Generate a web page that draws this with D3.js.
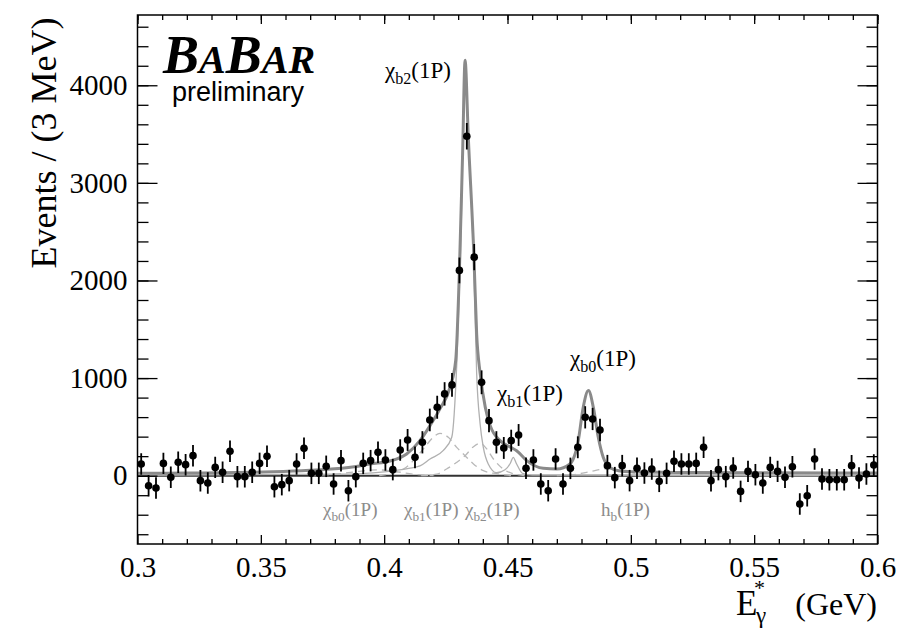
<!DOCTYPE html>
<html>
<head>
<meta charset="utf-8">
<script src="https://cdn.jsdelivr.net/npm/d3@7/dist/d3.min.js"></script>
<style>
  html, body { margin: 0; padding: 0; background: #fff; }
  svg { display: block; }
  .serif { font-family: "Liberation Serif", "Times New Roman", serif; }
  .sans { font-family: "Liberation Sans", Arial, sans-serif; }
</style>
</head>
<body>
<svg id="chart" width="910" height="636"></svg>
<script>
// Photon energy spectrum, 3 MeV bins from 0.300 to 0.600 GeV
const binStart = 0.3;
const binWidth = 0.003;
const counts = [
  120, -103, -126, 126, -17, 137, 113, 205, -51, -75,
  85, 34, 250, -10, -10, 34, 126, 198, -113, -92,
  -51, 120, 280, 24, 24, 96, -85, 154, -154, -10,
  126, 154, 239, 161, 62, 263, 366, 188, 342, 571,
  701, 838, 930, 2103, 3477, 2239, 957, 564, 342, 284,
  359, 417, 75, 161, -85, -154, 171, -85, 75, 291,
  598, 581, 468, 103, -20, 103, -51, 75, 27, 68,
  -58, 24, 147, 120, 120, 126, 291, -51, 62, -10,
  79, -161, 44, 10, -75, 85, 44, -17, 92, -290,
  -205, 171, -34, -41, -41, -41, 103, -24, 17, 110
];
const errors = [
  110, 110, 110, 110, 110, 110, 110, 110, 110, 110,
  110, 110, 110, 110, 110, 110, 110, 110, 110, 110,
  110, 110, 110, 110, 110, 110, 110, 110, 110, 110,
  110, 110, 110, 110, 110, 110, 112, 112, 114, 116,
  118, 120, 122, 132, 136, 134, 122, 118, 114, 112,
  112, 112, 110, 110, 110, 110, 110, 110, 110, 112,
  114, 114, 114, 110, 110, 110, 110, 110, 110, 110,
  110, 110, 110, 110, 110, 110, 110, 110, 110, 110,
  110, 110, 110, 110, 110, 110, 110, 110, 110, 110,
  110, 110, 110, 110, 110, 110, 110, 110, 110, 110
];

// Fit curves sampled as [E (GeV), events]
const fitTotal = [
  [0.300, 25], [0.320, 27], [0.340, 32], [0.355, 40], [0.370, 55], [0.380, 70],
  [0.390, 100], [0.3943, 120], [0.4024, 150], [0.4091, 222], [0.4145, 359],
  [0.4186, 513], [0.4226, 684], [0.4267, 906], [0.4290, 1180], [0.4305, 2100],
  [0.4318, 3300], [0.4328, 4256], [0.4341, 3477], [0.4364, 2239], [0.4375, 1450],
  [0.4389, 1050], [0.4410, 700], [0.4430, 513], [0.4470, 359], [0.4510, 295],
  [0.4537, 256], [0.4578, 154], [0.4645, 75], [0.4700, 68], [0.4753, 120],
  [0.4787, 359], [0.4807, 700], [0.4828, 872], [0.4848, 700], [0.4868, 393],
  [0.4888, 188], [0.4915, 85], [0.4950, 50], [0.5000, 40], [0.5200, 33],
  [0.5500, 30], [0.6000, 28]
];
const fitSignal = [
  [0.300, 4], [0.380, 15], [0.400, 40], [0.4100, 75], [0.4145, 100],
  [0.4186, 171], [0.4239, 256], [0.4274, 393], [0.4295, 1180], [0.4310, 2300],
  [0.4328, 4200], [0.4344, 3300], [0.4364, 2100], [0.4375, 1045], [0.4389, 530],
  [0.4402, 290], [0.4422, 120], [0.4456, 30], [0.4490, 60], [0.4512, 130],
  [0.4523, 188], [0.4537, 120], [0.4560, 25], [0.4600, 6], [0.6000, 0]
];
const peakB1 = [
  [0.398, 0], [0.4078, 68], [0.4118, 154], [0.4159, 274], [0.4199, 393],
  [0.4226, 434], [0.4260, 393], [0.4294, 290], [0.4328, 205], [0.4362, 120],
  [0.4402, 51], [0.4456, 20], [0.452, 0]
];
const peakB2 = [
  [0.415, 0], [0.4213, 15], [0.4253, 68], [0.4294, 137], [0.4328, 205],
  [0.4362, 297], [0.4389, 331], [0.4416, 274], [0.4443, 171], [0.4483, 68],
  [0.4524, 20], [0.458, 0]
];
const peakB0 = [
  [0.370, 0], [0.380, 15], [0.390, 45], [0.397, 60], [0.404, 45], [0.412, 15], [0.420, 0]
];
const peakHb = [
  [0.470, 0], [0.478, 15], [0.484, 45], [0.490, 70], [0.496, 55], [0.502, 25], [0.510, 0]
];

const xMajor = [0.3, 0.35, 0.4, 0.45, 0.5, 0.55, 0.6];
const xMajorLabels = ["0.3", "0.35", "0.4", "0.45", "0.5", "0.55", "0.6"];
const xMinor = d3.range(0, 31).map(i => +(0.3 + i * 0.01).toFixed(2));
const yMajor = [0, 1000, 2000, 3000, 4000];
const yMinor = d3.range(-600, 4720, 200);

const svg = d3.select("#chart");

const x = d3.scaleLinear().domain([0.3, 0.6]).range([137.5, 877.5]);
const y = d3.scaleLinear().domain([-700, 4720]).range([544, 15]);

svg.append("defs").append("clipPath").attr("id", "plotclip")
  .append("rect").attr("x", x(0.3)).attr("y", y(4720))
  .attr("width", x(0.6) - x(0.3)).attr("height", y(-700) - y(4720));

const plot = svg.append("g").attr("clip-path", "url(#plotclip)");

const line = d3.line().x(d => x(d[0])).y(d => y(d[1])).curve(d3.curveMonotoneX);

// Background level
plot.append("line")
  .attr("x1", x(0.3)).attr("x2", x(0.6))
  .attr("y1", y(0)).attr("y2", y(0))
  .attr("stroke", "#333").attr("stroke-width", 2);

// Peaking components (dashed)
[peakB0, peakB1, peakB2, peakHb].forEach(c => {
  plot.append("path").attr("d", line(c))
    .attr("fill", "none").attr("stroke", "#b8b8b8")
    .attr("stroke-width", 1.3).attr("stroke-dasharray", "7,5");
});

// Signal component
plot.append("path").attr("d", line(fitSignal))
  .attr("fill", "none").attr("stroke", "#b0b0b0").attr("stroke-width", 1.3);

// Total fit
plot.append("path").attr("d", line(fitTotal))
  .attr("fill", "none").attr("stroke", "#8a8a8a").attr("stroke-width", 3);

// Data points with error bars
const pts = counts.map((v, i) => ({ e: binStart + binWidth * (i + 0.5), v, err: errors[i] }));
const pg = plot.append("g");
pg.selectAll("line.err").data(pts).join("line").attr("class", "err")
  .attr("x1", d => x(d.e)).attr("x2", d => x(d.e))
  .attr("y1", d => y(d.v - d.err)).attr("y2", d => y(d.v + d.err))
  .attr("stroke", "#000").attr("stroke-width", 1.8);
pg.selectAll("circle").data(pts).join("circle")
  .attr("cx", d => x(d.e)).attr("cy", d => y(d.v)).attr("r", 3.8)
  .attr("fill", "#000");

// Axes (ticks pointing inward on all four sides)
function styleAxis(g) {
  g.attr("font-family", null).attr("font-size", null);
  g.select(".domain").remove();
  g.selectAll(".tick line").attr("stroke", "#000").attr("stroke-width", 1.3);
  g.selectAll(".tick text").attr("fill", "#000").attr("class", "serif")
    .style("font-size", "29px");
}
const bottomMajor = svg.append("g").attr("transform", `translate(0,${y(-700)})`)
  .call(d3.axisBottom(x).tickValues(xMajor).tickSize(-9).tickPadding(12)
    .tickFormat((d, i) => xMajorLabels[i]));
styleAxis(bottomMajor);
const bottomMinor = svg.append("g").attr("transform", `translate(0,${y(-700)})`)
  .call(d3.axisBottom(x).tickValues(xMinor.filter(v => !xMajor.some(m => Math.abs(m - v) < 1e-9))).tickSize(-5).tickFormat(""));
styleAxis(bottomMinor);
const topMajor = svg.append("g").attr("transform", `translate(0,${y(4720)})`)
  .call(d3.axisTop(x).tickValues(xMajor).tickSize(-9).tickFormat(""));
styleAxis(topMajor);
const topMinor = svg.append("g").attr("transform", `translate(0,${y(4720)})`)
  .call(d3.axisTop(x).tickValues(xMinor).tickSize(-5).tickFormat(""));
styleAxis(topMinor);

const leftMajor = svg.append("g").attr("transform", `translate(${x(0.3)},0)`)
  .call(d3.axisLeft(y).tickValues(yMajor).tickSize(-20).tickPadding(10).tickFormat(d3.format("d")));
styleAxis(leftMajor);
const leftMinor = svg.append("g").attr("transform", `translate(${x(0.3)},0)`)
  .call(d3.axisLeft(y).tickValues(yMinor).tickSize(-11).tickFormat(""));
styleAxis(leftMinor);
const rightMajor = svg.append("g").attr("transform", `translate(${x(0.6)},0)`)
  .call(d3.axisRight(y).tickValues(yMajor).tickSize(-20).tickFormat(""));
styleAxis(rightMajor);
const rightMinor = svg.append("g").attr("transform", `translate(${x(0.6)},0)`)
  .call(d3.axisRight(y).tickValues(yMinor).tickSize(-11).tickFormat(""));
styleAxis(rightMinor);

// Frame
svg.append("rect").attr("x", x(0.3)).attr("y", y(4720))
  .attr("width", x(0.6) - x(0.3)).attr("height", y(-700) - y(4720))
  .attr("fill", "none").attr("stroke", "#000").attr("stroke-width", 1.5);

// Axis titles
svg.append("text").attr("class", "serif").attr("transform", "translate(56,143) rotate(-90)")
  .attr("text-anchor", "middle").style("font-size", "36px")
  .attr("fill", "#000").text("Events / (3 MeV)");

svg.append("text").attr("class", "serif").attr("x", 736).attr("y", 615)
  .style("font-size", "35px").attr("fill", "#000").text("E");
svg.append("text").attr("class", "serif").attr("x", 756).attr("y", 623)
  .style("font-size", "23px").attr("fill", "#000").text("γ");
svg.append("text").attr("class", "serif").attr("x", 754).attr("y", 595)
  .style("font-size", "22px").attr("fill", "#000").text("*");
svg.append("text").attr("class", "serif").attr("x", 877).attr("y", 615)
  .attr("text-anchor", "end").style("font-size", "32px").attr("fill", "#000").text("(GeV)");

// Peak labels
function chiLabel(x0, y0, sub, size, color, base) {
  const t = svg.append("text").attr("class", "serif").attr("x", x0).attr("y", y0)
    .style("font-size", size + "px").attr("fill", color);
  t.append("tspan").text(base);
  t.append("tspan").style("font-size", (size * 0.7) + "px").attr("dy", size * 0.28).text(sub);
  t.append("tspan").attr("dy", -size * 0.28).text("(1P)");
}
chiLabel(385, 78, "b2", 23, "#000", "χ");
chiLabel(497, 401, "b1", 23, "#000", "χ");
chiLabel(570, 366, "b0", 23, "#000", "χ");
chiLabel(323, 516, "b0", 19, "#8c8c8c", "χ");
chiLabel(404, 516, "b1", 19, "#8c8c8c", "χ");
chiLabel(465, 516, "b2", 19, "#8c8c8c", "χ");
chiLabel(601, 516, "b", 19, "#8c8c8c", "h");

// Experiment logo
const logo = svg.append("text").attr("class", "serif").attr("x", 163).attr("y", 73)
  .style("font-style", "italic").style("font-weight", "bold").attr("fill", "#000");
logo.append("tspan").style("font-size", "54px").text("B");
logo.append("tspan").style("font-size", "40px").text("A");
logo.append("tspan").style("font-size", "54px").text("B");
logo.append("tspan").style("font-size", "40px").text("AR");
svg.append("text").attr("class", "sans").attr("x", 172).attr("y", 101)
  .style("font-size", "27px").attr("fill", "#000").text("preliminary");
</script>
</body>
</html>
